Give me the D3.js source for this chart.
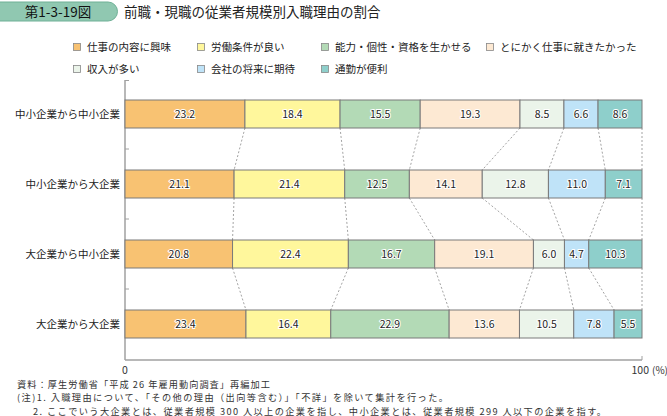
<!DOCTYPE html>
<html><head><meta charset="utf-8">
<script src="https://cdn.jsdelivr.net/npm/d3@7"></script>
<style>
body{margin:0;background:#fff;}
svg{display:block;font-family:"Noto Sans CJK JP","Noto Sans",sans-serif;}
</style></head><body>
<svg id="c" width="667" height="416"></svg>
<script>
const categories = ["中小企業から中小企業","中小企業から大企業","大企業から中小企業","大企業から大企業"];
const reasons = ["仕事の内容に興味","労働条件が良い","能力・個性・資格を生かせる","とにかく仕事に就きたかった","収入が多い","会社の将来に期待","通勤が便利"];
const values = [
  [23.2,18.4,15.5,19.3,8.5,6.6,8.6],
  [21.1,21.4,12.5,14.1,12.8,11.0,7.1],
  [20.8,22.4,16.7,19.1,6.0,4.7,10.3],
  [23.4,16.4,22.9,13.6,10.5,7.8,5.5]
];
const colors = ["#f8c272","#fff79c","#b3dab6","#fde9d3","#ebf4ea","#bfe3f8","#8ecfcb"];
const xTicks = [0,100];
const title = "前職・現職の従業者規模別入職理由の割合";
const badge = "第1-3-19図";
const notes = ["資料：厚生労働省「平成 26 年雇用動向調査」再編加工",
  "(注)1. 入職理由について、「その他の理由（出向等含む）」「不詳」を除いて集計を行った。",
  "2. ここでいう大企業とは、従業者規模 300 人以上の企業を指し、中小企業とは、従業者規模 299 人以下の企業を指す。"];

const svg = d3.select("#c");
const x = d3.scaleLinear().domain([0,100]).range([125,642]).clamp(true);
const y = d3.scaleBand().domain(categories).range([79,359]).paddingInner(0.6).paddingOuter(0.3);

// badge
svg.append("path")
  .attr("d","M-5,2 H108 A9.5,9.5 0 0 1 108,21 H-5 Z")
  .attr("fill","#90c8b1").attr("stroke","#6fb096").attr("stroke-width",1);
svg.append("text").attr("x",58).attr("y",16.5).attr("text-anchor","middle")
  .attr("font-size",13.5).attr("fill","#111").text(badge);
svg.append("text").attr("x",124).attr("y",16.5).attr("font-size",13.5).attr("fill","#222").text(title);

// legend
const legPos = [[77,47],[201,47],[325,47],[490,47],[77,69],[201,69],[325,69]];
reasons.forEach((r,i)=>{
  const [lx,ly] = legPos[i];
  svg.append("rect").attr("x",lx-3.5).attr("y",ly-3.5).attr("width",7).attr("height",7)
    .attr("fill",colors[i]).attr("stroke","#888").attr("stroke-width",0.8);
  svg.append("text").attr("x",lx+10).attr("y",ly+4).attr("font-size",10.5).attr("fill","#222").text(r);
});

// axes
const axisColor = "#a0a0a0";
svg.append("line").attr("x1",125).attr("x2",125).attr("y1",80).attr("y2",360)
  .attr("stroke",axisColor).attr("stroke-width",1.5);
svg.append("line").attr("x1",125).attr("x2",129).attr("y1",80.5).attr("y2",80.5)
  .attr("stroke",axisColor).attr("stroke-width",1);
svg.append("line").attr("x1",125).attr("x2",x(100)).attr("y1",360).attr("y2",360)
  .attr("stroke",axisColor).attr("stroke-width",1.5);
svg.append("line").attr("x1",x(100)).attr("x2",x(100)).attr("y1",356).attr("y2",360)
  .attr("stroke",axisColor).attr("stroke-width",1);
for(let i=0;i<categories.length-1;i++){
  const ym = (y(categories[i])+y.bandwidth()+y(categories[i+1]))/2;
  svg.append("line").attr("x1",125).attr("x2",129).attr("y1",ym).attr("y2",ym)
    .attr("stroke",axisColor).attr("stroke-width",1);
}
xTicks.forEach((t,i)=>{
  svg.append("text").attr("x",x(t)+(i===xTicks.length-1?7:0)).attr("y",374)
    .attr("text-anchor",i===xTicks.length-1?"end":"middle")
    .attr("font-size",10.5).attr("fill","#333").text(t);
});
svg.append("text").attr("x",x(100)+10).attr("y",374).attr("font-size",10).attr("fill","#333").text("(%)");

// category labels
svg.selectAll("text.cat").data(categories).enter().append("text").attr("class","cat")
  .attr("x",120).attr("y",d=>y(d)+y.bandwidth()/2+4).attr("text-anchor","end")
  .attr("font-size",10.5).attr("fill","#222").text(d=>d);

// stacked data
const stacked = values.map((row,ri)=>{
  let c=0; return row.map((v,k)=>{const s=c; c+=v; return {ri,k,v,s,e:c};});
});

// connectors
for(let ri=0;ri<stacked.length-1;ri++){
  const y1 = y(categories[ri])+y.bandwidth();
  const y2 = y(categories[ri+1]);
  for(let k=0;k<reasons.length;k++){
    svg.append("line").attr("x1",x(stacked[ri][k].e)).attr("x2",x(stacked[ri+1][k].e))
      .attr("y1",y1).attr("y2",y2).attr("stroke","#999").attr("stroke-width",0.9)
      .attr("stroke-dasharray","2,2");
  }
}

// bars
const g = svg.append("g");
stacked.forEach((row,ri)=>{
  const yy = y(categories[ri]);
  row.forEach(d=>{
    g.append("rect").attr("x",x(d.s)).attr("y",yy).attr("width",x(d.e)-x(d.s)).attr("height",y.bandwidth())
      .attr("fill",colors[d.k]).attr("stroke","#7a7a7a").attr("stroke-width",1);
  });
  row.forEach(d=>{
    g.append("text").attr("x",(x(d.s)+x(d.e))/2).attr("y",yy+y.bandwidth()/2+4)
      .attr("text-anchor","middle").attr("font-size",10.5).attr("fill","#222")
      .attr("stroke","#fff").attr("stroke-width",2).attr("paint-order","stroke")
      .text(d.v.toFixed(1));
  });
});

// notes
const noteLayout = [[17,387.5,253],[17,401,431],[33,414.5,573]];
notes.forEach((n,i)=>{
  const [nx,ny,len] = noteLayout[i];
  svg.append("text").attr("x",nx).attr("y",ny).attr("font-size",9.2).attr("fill","#333")
    .attr("textLength",len).attr("lengthAdjust","spacing").text(n);
});
</script></body></html>
